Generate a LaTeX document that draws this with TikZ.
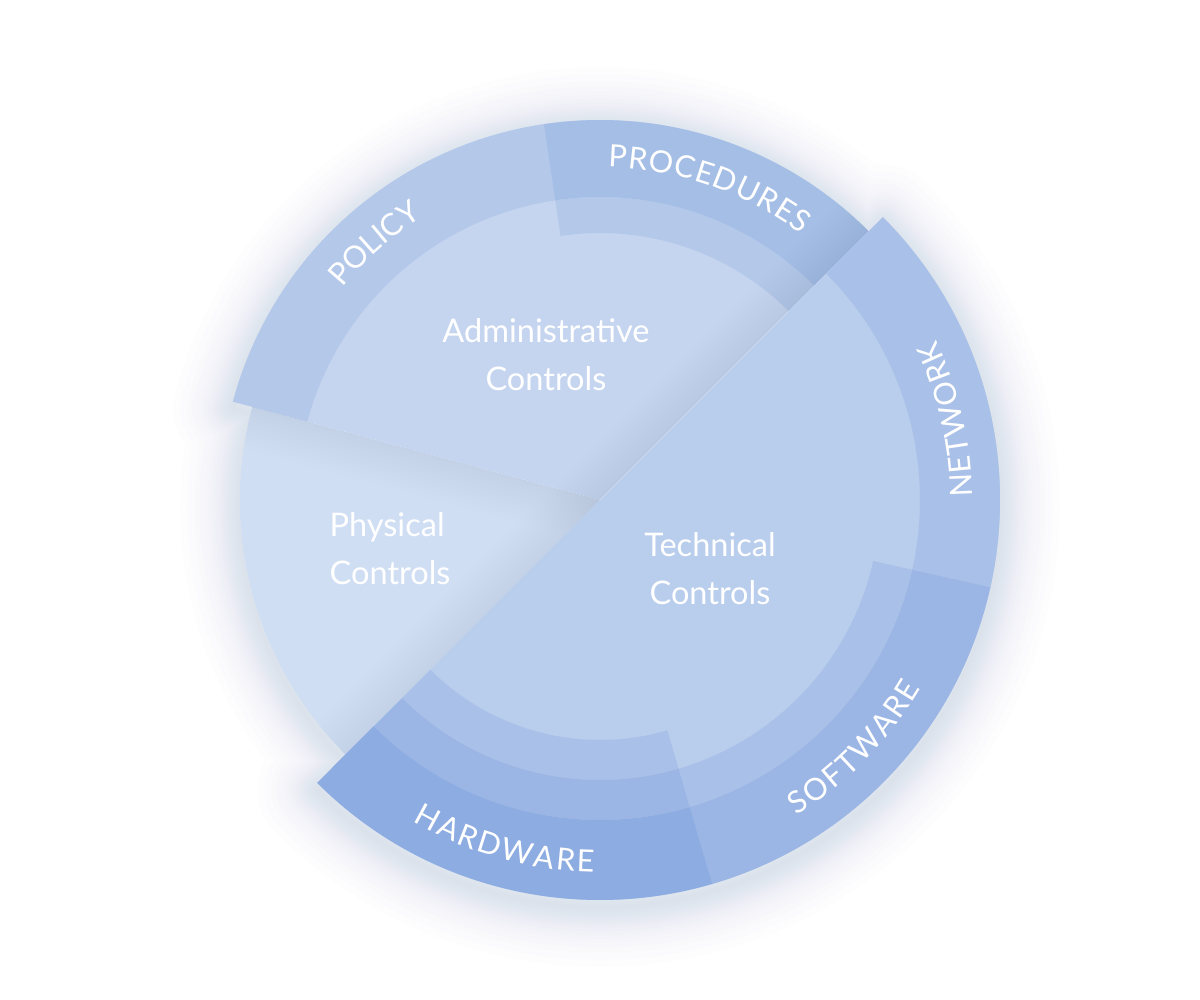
\documentclass[tikz,border=0pt]{standalone}
\usepackage{fontspec}
\setmainfont{Lato}
\usetikzlibrary{decorations.text}

\definecolor{physcol}{RGB}{208,222,244}
\definecolor{admincol}{RGB}{197,213,239}
\definecolor{techcol}{RGB}{185,205,236}
\definecolor{polcol}{RGB}{180,200,234}
\definecolor{procol}{RGB}{165,190,230}
\definecolor{netcol}{RGB}{169,192,232}
\definecolor{softcol}{RGB}{155,182,228}
\definecolor{hardcol}{RGB}{141,172,225}
\definecolor{glowcol}{RGB}{160,175,215}
\definecolor{shadecol}{RGB}{100,120,175}

\newcommand{\ringfont}{\fontsize{8.7}{10}\selectfont}
% annular sector: colour, from, to, inner radius, outer radius
\newcommand{\band}[5]{\fill[#1] (#2:#5) arc[start angle=#2,end angle=#3,radius=#5] -- (#3:#4) arc[start angle=#3,end angle=#2,radius=#4] -- cycle;}

\tikzset{
  ctrl/.style={text=white, inner sep=0pt, align=center, font=\fontsize{9.25}{13.5}\selectfont},
  ringlabel/.style={decorate, decoration={text along path, text align=fit to path, text color=white, text={|\ringfont|#1}}},
}

\begin{document}
\begin{tikzpicture}[x=0.01cm,y=0.01cm]
    \useasboundingbox (-600,-500) rectangle (600,500);
    \fill[white] (-600,-500) rectangle (600,500);
    \def\outline{(-135:400) arc[start angle=-135,end angle=45,radius=400] -- (45:380) arc[start angle=45,end angle=165,radius=380] -- (165:360) arc[start angle=165,end angle=225,radius=360] -- cycle}
    % soft shadow round the wheel
    \foreach \w in {1,2,3,4,5,6,7,8,9,10,11,12,14,16,18,20,23,26,30,34}
        \draw[glowcol, line width=\w pt, line join=round, opacity=0.016, yshift=-2pt] \outline;
    % physical and administrative
    \fill[physcol] (0,0) -- (165:360) arc[start angle=165,end angle=225,radius=360] -- cycle;
    \fill[admincol] (0,0) -- (45:380) arc[start angle=45,end angle=165,radius=380] -- cycle;
    \band{polcol}{98.5}{165}{303}{380}
    \band{polcol}{45}{98.5}{267}{303}
    \band{procol}{45}{98.5}{303}{380}
    % shadows of the sectors above
    \begin{scope}
        \clip (0,0) -- (45:380) arc[start angle=45,end angle=165,radius=380] -- (165:360) arc[start angle=165,end angle=225,radius=360] -- cycle;
        \foreach \w in {2,4,...,24}
            \draw[shadecol, line width=\w pt, opacity=0.005] (225:420) -- (45:420);
    \end{scope}
    \begin{scope}
        \clip (0,0) -- (165:360) arc[start angle=165,end angle=225,radius=360] -- cycle;
        \foreach \w in {2,4,...,24}
            \draw[shadecol, line width=\w pt, opacity=0.004] (0,0) -- (165:420);
    \end{scope}
    % technical
    \fill[techcol] (0,0) -- (-135:400) arc[start angle=-135,end angle=45,radius=400] -- cycle;
    \band{netcol}{-12.6}{45}{320}{400}
    \band{netcol}{-73.7}{-12.6}{280}{320}
    \band{softcol}{-73.7}{-12.6}{320}{400}
    \band{netcol}{-135}{-73.7}{240}{280}
    \band{softcol}{-135}{-73.7}{280}{320}
    \band{hardcol}{-135}{-73.7}{320}{400}
    % texts
    \node[ctrl, anchor=base] (admin) at (-54,110) {Administrative\\Controls};
    \node[ctrl, anchor=base] (tech) at (110,-104) {Technical\\Controls};
    \node[ctrl, align=left, anchor=base west] (phys) at (-271,-84) {Physical\\Controls};
    \path[ringlabel=POLICY] (140.5:334) arc[start angle=140.5,end angle=123.3,radius=334];
    \path[ringlabel=PROCEDURES] (88.6:333) arc[start angle=88.6,end angle=52.8,radius=333];
    \path[ringlabel=NETWORK] (0.5:372) arc[start angle=0.5,end angle=25.5,radius=372];
    \path[ringlabel=SOFTWARE] (-58.1:372) arc[start angle=-58.1,end angle=-30.4,radius=372];
    \path[ringlabel=HARDWARE] (-120.2:372) arc[start angle=-120.2,end angle=-90.9,radius=372];
\end{tikzpicture}
\end{document}
